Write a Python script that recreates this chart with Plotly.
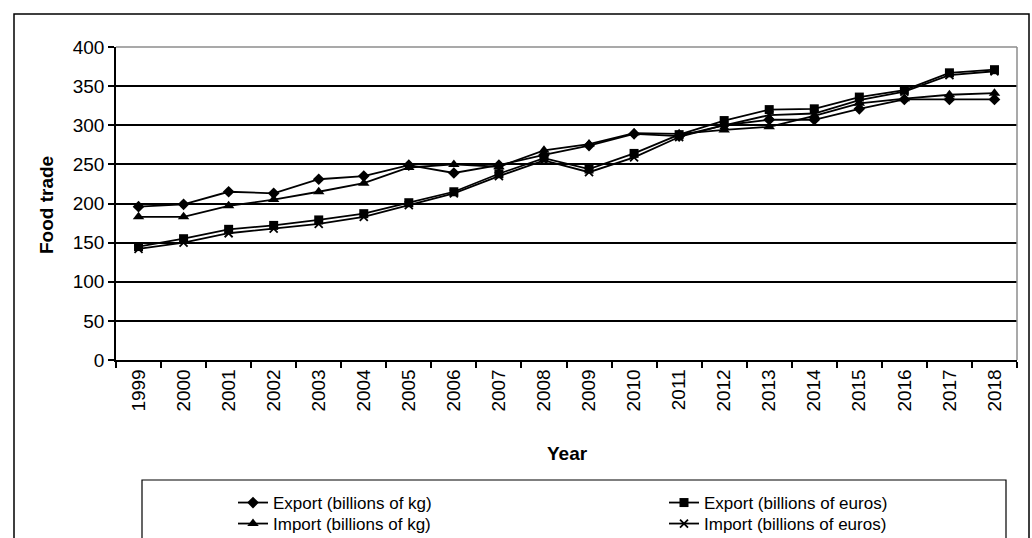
import plotly.graph_objects as go

# ---------------- data ----------------
years = ["1999", "2000", "2001", "2002", "2003", "2004", "2005", "2006", "2007", "2008",
         "2009", "2010", "2011", "2012", "2013", "2014", "2015", "2016", "2017", "2018"]

export_kg = [196, 199, 215, 213, 231, 235, 249, 239, 249, 262,
             274, 289, 286, 300, 307, 307, 321, 333, 333, 333]
export_eur = [145, 155, 167, 172, 179, 187, 201, 215, 238, 258,
              244, 264, 288, 306, 320, 321, 336, 345, 367, 371]
import_kg = [183, 183, 197, 205, 215, 226, 246, 250, 247, 268,
             276, 290, 289, 294, 298, 312, 328, 334, 339, 341]
import_eur = [142, 150, 162, 168, 174, 183, 198, 213, 235, 255,
              240, 259, 285, 300, 313, 315, 332, 343, 364, 369]

series_names = ["Export (billions of kg)", "Export (billions of euros)",
                "Import (billions of kg)", "Import (billions of euros)"]

y_ticks = [0, 50, 100, 150, 200, 250, 300, 350, 400]

# ---------------- layout geometry ----------------
W, H = 1032, 538
ML, MR, MT, MB = 116, 15, 47, 178
PW, PH = W - ML - MR, H - MT - MB
FONT = "Liberation Sans, Arial, sans-serif"


def px(x):
    return (x - ML) / PW


def py(y):
    return (H - MB - y) / PH


fig = go.Figure()

styles = [
    dict(symbol="diamond", size=9),
    dict(symbol="square", size=9),
    dict(symbol="triangle-up", size=10),
    dict(symbol="x-thin", size=8, line=dict(width=1.8, color="black")),
]
values = [export_kg, export_eur, import_kg, import_eur]
legend_ids = ["legend", "legend2", "legend3", "legend4"]

for name, vals, st, lg in zip(series_names, values, styles, legend_ids):
    fig.add_trace(go.Scatter(
        x=years, y=vals, name=name, mode="lines+markers",
        line=dict(color="black", width=1.8),
        marker=dict(color="black", **st),
        legend=lg,
    ))

leg_common = dict(xanchor="left", yanchor="middle", bgcolor="rgba(0,0,0,0)",
                  borderwidth=0, font=dict(family=FONT, size=17, color="black"))

shapes = [
    # outer frame
    dict(type="rect", xref="paper", yref="paper", x0=px(14), x1=px(1029), y0=py(570), y1=py(14),
         line=dict(color="black", width=1.5)),
    # plot area top & right border (grey)
    dict(type="line", xref="paper", yref="paper", x0=0, x1=1, y0=1, y1=1,
         line=dict(color="#8c8c8c", width=1.5)),
    dict(type="line", xref="paper", yref="paper", x0=1, x1=1, y0=0, y1=1,
         line=dict(color="#8c8c8c", width=1.5)),
    # legend frame
    dict(type="rect", xref="paper", yref="paper", x0=px(142), x1=px(1006), y0=py(570), y1=py(480),
         line=dict(color="black", width=1.2)),
]

fig.update_layout(
    width=W, height=H,
    margin=dict(l=ML, r=MR, t=MT, b=MB, autoexpand=False),
    paper_bgcolor="white", plot_bgcolor="white",
    font=dict(family=FONT, size=19, color="black"),
    showlegend=True,
    legend=dict(x=px(233), y=py(503), **leg_common),
    legend2=dict(x=px(664), y=py(503), **leg_common),
    legend3=dict(x=px(233), y=py(524), **leg_common),
    legend4=dict(x=px(664), y=py(524), **leg_common),
    xaxis=dict(
        type="category", categoryarray=years, range=[-0.5, len(years) - 0.5],
        showline=True, linecolor="black", linewidth=1.5,
        ticks="outside", tickson="boundaries", ticklen=6, tickcolor="black", tickwidth=1.5,
        tickangle=-90, showgrid=False,
        tickfont=dict(family=FONT, size=19, color="black"),
    ),
    yaxis=dict(
        range=[0, 400], tickvals=y_ticks,
        showline=True, linecolor="black", linewidth=1.5,
        ticks="outside", ticklen=6, tickcolor="black", tickwidth=1.5,
        showgrid=True, gridcolor="black", gridwidth=1.5, zeroline=False,
        tickfont=dict(family=FONT, size=19, color="black"),
    ),
    shapes=shapes,
    annotations=[
        dict(text="<b>Food trade</b>", xref="paper", yref="paper", x=px(46), y=py(205),
             textangle=-90, showarrow=False, xanchor="center", yanchor="middle",
             font=dict(family=FONT, size=19, color="black")),
        dict(text="<b>Year</b>", xref="paper", yref="paper", x=px(567), y=py(453),
             showarrow=False, xanchor="center", yanchor="middle",
             font=dict(family=FONT, size=19, color="black")),
    ],
)

fig.write_html("out.html")
